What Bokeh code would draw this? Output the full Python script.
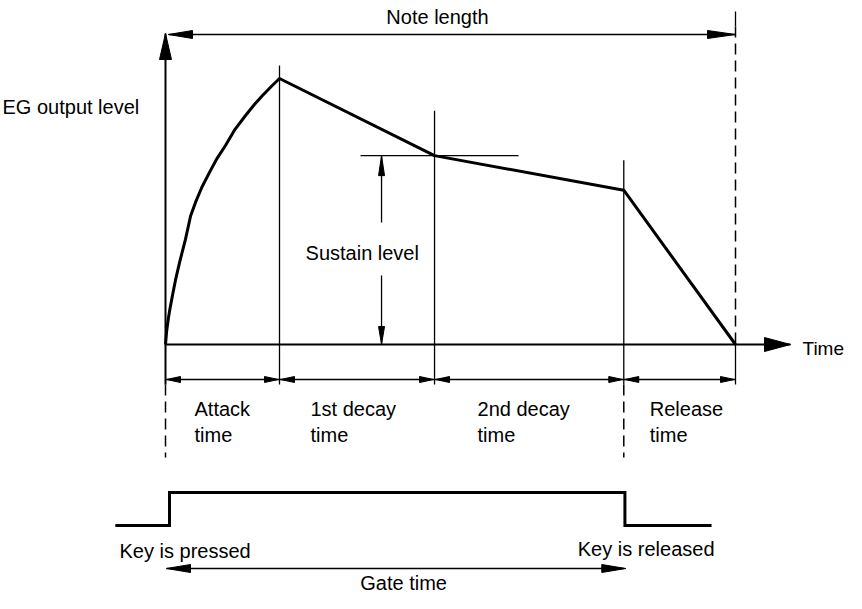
from bokeh.plotting import figure
from bokeh.models import Range1d
from bokeh.core.properties import value
from bokeh.embed import file_html
from bokeh.resources import INLINE

# ---------------- data ----------------
# time in units of the attack time, level relative to the peak level
segment_times = [0.0, 1.0, 2.36, 4.02, 5.0]      # key on, attack end, 1st decay end, 2nd decay end (key off), release end
segment_levels = [0.0, 1.0, 0.71, 0.58, 0.0]
attack_curve_t = [0.0, 0.01, 0.025, 0.04, 0.061, 0.09, 0.123, 0.175, 0.22, 0.263,
                  0.32, 0.386, 0.45, 0.526, 0.61, 0.702, 0.78, 0.851, 0.93, 1.0]
attack_curve_L = [0.0, 0.05, 0.098, 0.136, 0.184, 0.247, 0.308, 0.395, 0.483, 0.534,
                  0.592, 0.647, 0.698, 0.748, 0.809, 0.861, 0.902, 0.936, 0.971, 1.0]
phase_names = ["Attack", "1st decay", "2nd decay", "Release"]
phase_second_line = ["time", "time", "time", "time"]
gate_t = [-0.44, 0.035, 0.035, 4.03, 4.03, 4.79]
gate_state = [0, 0, 1, 1, 0, 0]

# ---------------- layout ----------------
PX_T = 114.0   # pixels per time unit
PX_L = 266.0   # pixels per level unit
W, H = 846, 593
FONT = value("Liberation Sans")
FS = "20px"


def tx(t, px=0.0):
    return t + px / PX_T


def ly(L, px=0.0):
    return L + px / PX_L


p = figure(width=W, height=H, output_backend="svg", toolbar_location=None,
           x_range=Range1d(tx(0, -165), tx(0, 681)),
           y_range=Range1d(ly(0, -249), ly(0, 344)),
           x_axis_type=None, y_axis_type=None, min_border=0)
p.outline_line_color = None
p.background_fill_color = "white"
p.border_fill_color = "white"
p.grid.visible = False

t0, tA, tD1, tD2, tR = segment_times
Lpk, Ls, Ld2 = segment_levels[1], segment_levels[2], segment_levels[3]

heads_x, heads_y = [], []


def head(t, L, direction, length, width):
    hw = width / 2.0
    if direction == "left":
        xs = [t, tx(t, length), tx(t, length)]
        ys = [L, ly(L, hw), ly(L, -hw)]
    elif direction == "right":
        xs = [t, tx(t, -length), tx(t, -length)]
        ys = [L, ly(L, hw), ly(L, -hw)]
    elif direction == "up":
        xs = [t, tx(t, hw), tx(t, -hw)]
        ys = [L, ly(L, -length), ly(L, -length)]
    else:
        xs = [t, tx(t, hw), tx(t, -hw)]
        ys = [L, ly(L, length), ly(L, length)]
    heads_x.append(xs)
    heads_y.append(ys)


# axes
y_top = ly(Lpk, 45)
t_end = tx(tR, 55)
p.line([t0, t0], [ly(0, -40), y_top], line_color="black", line_width=2)
p.line([t0, t_end], [0, 0], line_color="black", line_width=2)
head(t0, y_top, "up", 26, 12)
head(t_end, 0, "right", 26, 14)

# thin solid lines
thin_x, thin_y = [], []
tops = [ly(Lpk, 13), ly(Ls, 45), ly(Ld2, 30)]
for t, top in zip([tA, tD1, tD2], tops):
    thin_x.append([t, t]); thin_y.append([top, ly(0, -40)])
thin_x.append([tR, tR]); thin_y.append([0, ly(0, -40)])
thin_x.append([tR, tR]); thin_y.append([ly(Lpk, 67), ly(Lpk, 52)])
# note length arrow
y_note = ly(Lpk, 44)
thin_x.append([tx(t0, 3), tR]); thin_y.append([y_note, y_note])
head(tx(t0, 3), y_note, "left", 24, 8)
head(tR, y_note, "right", 28, 8)
# interval arrows
y_int = ly(0, -35)
thin_x.append([t0, tR]); thin_y.append([y_int, y_int])
for a, b in zip(segment_times[:-1], segment_times[1:]):
    head(tx(a, 1), y_int, "left", 14, 6)
    head(tx(b, -1), y_int, "right", 14, 6)
# sustain level reference and double arrow
thin_x.append([tx(tD1, -74), tx(tD1, 84)]); thin_y.append([Ls, Ls])
t_sus = tx(tD1, -53)
thin_x.append([t_sus, t_sus]); thin_y.append([Ls, ly(0, 122)])
thin_x.append([t_sus, t_sus]); thin_y.append([ly(0, 69), 0])
head(t_sus, Ls, "up", 20, 6)
head(t_sus, 0, "down", 18, 6)
# gate time arrow
y_gate = ly(0, -224)
thin_x.append([tx(t0, 1), tD2]); thin_y.append([y_gate, y_gate])
head(tx(t0, 1), y_gate, "left", 24, 8)
head(tx(tD2, 2), y_gate, "right", 24, 8)
p.multi_line(thin_x, thin_y, line_color="black", line_width=1.3)

# dashed lines
p.multi_line([[tR, tR], [t0, t0], [tD2, tD2]],
             [[ly(Lpk, 52), 0], [ly(0, -40), ly(0, -113)], [ly(0, -40), ly(0, -113)]],
             line_color="black", line_width=1.5, line_dash="11 6")

# envelope
env_x = attack_curve_t + segment_times[2:]
env_y = attack_curve_L + segment_levels[2:]
p.line(env_x, env_y, line_color="black", line_width=3, line_join="round")

# gate signal
GATE_LOW, GATE_HIGH = ly(0, -181), ly(0, -148)
gate_y = [GATE_HIGH if s else GATE_LOW for s in gate_state]
p.line(gate_t, gate_y, line_color="black", line_width=3, line_join="miter")

p.patches(heads_x, heads_y, fill_color="black", line_color="black", line_width=1)

# texts
txt_x, txt_y, txt = [], [], []
label_offsets = [29, 31, 43, 26]
for a, off, n1, n2 in zip(segment_times[:-1], label_offsets, phase_names, phase_second_line):
    txt_x += [tx(a, off), tx(a, off)]
    txt_y += [ly(0, -64), ly(0, -90)]
    txt += [n1, n2]
txt_x += [tx(t0, -163), tx(t_end, 12), tx(t_sus, -76), tx(t0, -46), tx(tD2, -46)]
txt_y += [ly(0, 238), ly(0, -4), ly(0, 92), ly(0, -206), ly(0, -204)]
txt += ["EG output level", "Time", "Sustain level", "Key is pressed", "Key is released"]
sizes = [FS] * (len(txt) - 5) + [FS, "19px", FS, FS, FS]
p.text(txt_x, txt_y, text=txt, text_font=FONT, text_font_size=sizes,
       text_baseline="alphabetic", text_align="left", text_color="black")

p.text([tx((t0 + tR) / 2, -13), tx((t0 + tD2) / 2, 9)], [ly(0, 328), ly(0, -238)],
       text=["Note length", "Gate time"], text_font=FONT, text_font_size=FS,
       text_baseline="alphabetic", text_align="center", text_color="black")

open("out.html", "w").write(file_html(p, INLINE))
